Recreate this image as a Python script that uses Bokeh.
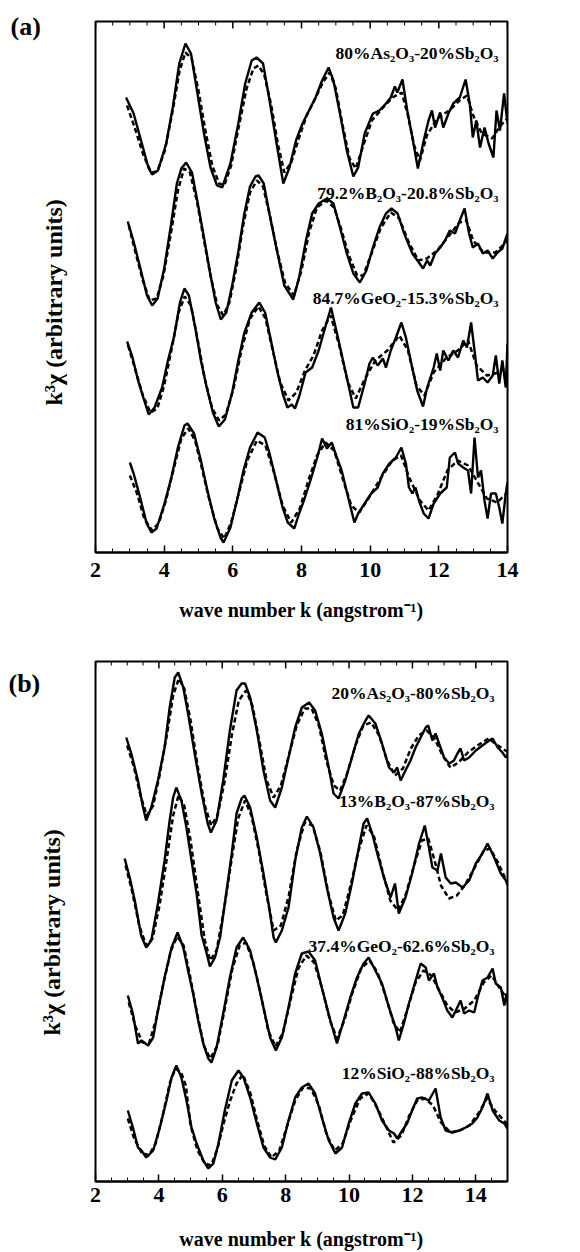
from bokeh.plotting import figure
from bokeh.models import Range1d, FixedTicker, Label, Title
from bokeh.layouts import column
from bokeh.embed import file_html
from bokeh.resources import INLINE

# ---------------- data (k in 1/angstrom, k^3 chi in arbitrary units) ----------------
a_labels = ["80%As₂O₃-20%Sb₂O₃", "79.2%B₂O₃-20.8%Sb₂O₃",
            "84.7%GeO₂-15.3%Sb₂O₃", "81%SiO₂-19%Sb₂O₃"]
b_labels = ["20%As₂O₃-80%Sb₂O₃", "13%B₂O₃-87%Sb₂O₃",
            "37.4%GeO₂-62.6%Sb₂O₃", "12%SiO₂-88%Sb₂O₃"]
a_offsets = [43.7, 30.7, 18.7, 6.7]
b_offsets = [43.1, 31.1, 18.6, 6.6]
x_ticks = [2, 4, 6, 8, 10, 12, 14]
y_title = "k³χ (arbitrary units)"
x_title = "wave number k (angstrom⁻¹)"

# panel (a) experiment (solid)
a1_exp = [(2.89,1.8),(3.11,0.2),(3.35,-2.8),(3.54,-5.2),(3.65,-5.9),(3.82,-5.5),(4.06,-2.8),(4.25,0.8),(4.44,5.2),(4.62,7.2),(4.78,6.2),(4.97,2.2),(5.16,-1.8),(5.35,-5.2),(5.54,-7.0),(5.69,-7.2),(5.93,-4.8),(6.16,-0.8),(6.36,3.2),(6.55,5.5),(6.69,5.8),(6.88,5.2),(7.07,1.5),(7.26,-2.5),(7.47,-6.8),(7.65,-5.2),(7.84,-2.5),(8.03,-0.8),(8.22,0.5),(8.41,1.8),(8.60,3.5),(8.79,4.8),(8.93,3.5),(9.12,0.2),(9.32,-3.5),(9.51,-6.1),(9.65,-5.2),(9.84,-1.8),(10.08,0.2),(10.27,0.5),(10.46,1.2),(10.60,1.8),(10.72,2.9),(10.79,2.3),(10.94,3.6),(11.08,0.5),(11.23,-2.2),(11.39,-5.3),(11.56,-2.5),(11.70,-0.5),(11.80,0.5),(11.89,-1.2),(12.04,0.3),(12.13,-1.2),(12.28,0.2),(12.42,1.2),(12.61,1.8),(12.78,3.6),(12.90,1.2),(12.99,-2.2),(13.09,-0.5),(13.20,-3.2),(13.33,-1.2),(13.45,-2.8),(13.59,-4.2),(13.68,0.5),(13.78,-1.5),(13.90,2.2),(14.0,-0.8)]
a2_exp = [(2.94,2.4),(3.11,0.4),(3.33,-2.6),(3.50,-5.0),(3.65,-6.0),(3.81,-5.3),(4.00,-2.3),(4.20,2.1),(4.37,6.2),(4.50,7.7),(4.64,8.3),(4.81,7.3),(4.98,4.2),(5.16,0.8),(5.33,-2.6),(5.50,-5.7),(5.65,-7.4),(5.81,-6.7),(5.98,-4.0),(6.16,-0.6),(6.33,3.1),(6.50,5.9),(6.66,6.9),(6.75,7.0),(6.90,6.2),(7.07,3.1),(7.29,-0.6),(7.50,-4.0),(7.76,-5.4),(7.93,-3.2),(8.13,0.5),(8.31,3.2),(8.50,4.2),(8.74,4.7),(8.93,4.2),(9.12,1.8),(9.32,-0.8),(9.51,-2.8),(9.70,-3.7),(9.89,-2.5),(10.08,-0.2),(10.27,1.8),(10.46,3.2),(10.62,3.7),(10.80,3.2),(10.99,1.2),(11.23,-0.8),(11.42,-1.7),(11.54,-2.3),(11.66,-1.5),(11.75,-2.0),(11.89,-0.8),(12.04,-0.2),(12.18,0.5),(12.32,1.5),(12.47,1.2),(12.61,2.5),(12.75,3.7),(12.88,1.2),(12.99,-0.2),(13.14,0.2),(13.28,-0.8),(13.42,-0.5),(13.57,-1.3),(13.71,-0.7),(13.85,-0.3),(14.0,1.2)]
a3_exp = [(2.92,2.4),(3.07,0.9),(3.24,-1.5),(3.42,-3.5),(3.55,-4.9),(3.72,-4.2),(3.94,-2.2),(4.11,0.5),(4.29,2.9),(4.46,6.3),(4.59,7.7),(4.72,7.0),(4.90,3.9),(5.07,0.5),(5.24,-2.2),(5.42,-4.7),(5.59,-6.1),(5.77,-5.4),(5.98,-2.7),(6.16,0.5),(6.33,3.2),(6.55,5.3),(6.77,6.3),(6.94,5.3),(7.11,2.5),(7.29,-0.5),(7.46,-2.9),(7.59,-4.2),(7.72,-3.9),(7.81,-4.3),(7.94,-3.0),(8.12,-0.7),(8.31,-0.2),(8.50,1.5),(8.69,3.8),(8.86,5.8),(9.08,2.5),(9.32,-1.2),(9.51,-4.2),(9.65,-4.2),(9.84,-1.8),(9.98,0.2),(10.08,0.8),(10.22,0.0),(10.37,0.7),(10.46,-0.2),(10.60,1.5),(10.75,2.8),(10.91,4.3),(11.04,2.8),(11.18,0.5),(11.37,-2.5),(11.54,-4.1),(11.66,-2.2),(11.85,-0.2),(11.94,1.2),(12.04,-0.5),(12.13,1.5),(12.28,0.5),(12.42,1.5),(12.56,0.8),(12.71,2.5),(12.82,1.8),(12.94,4.3),(13.04,1.5),(13.14,-1.5),(13.28,-1.2),(13.42,-1.7),(13.57,-1.0),(13.66,1.0),(13.76,-1.8),(13.85,0.5),(13.95,-2.2),(14.0,2.2)]
a4_exp = [(3.00,2.3),(3.11,1.2),(3.30,-1.2),(3.49,-3.8),(3.63,-4.7),(3.78,-4.3),(4.01,-1.8),(4.21,0.8),(4.40,3.8),(4.59,6.0),(4.68,6.2),(4.87,5.2),(5.07,2.5),(5.26,-0.5),(5.45,-3.2),(5.64,-5.2),(5.73,-5.7),(5.93,-4.2),(6.12,-1.5),(6.31,1.5),(6.50,3.8),(6.72,5.3),(6.93,4.8),(7.07,3.2),(7.26,0.5),(7.45,-2.2),(7.60,-3.7),(7.79,-4.3),(7.93,-2.8),(8.07,-1.5),(8.26,0.5),(8.46,2.8),(8.60,4.7),(8.74,3.7),(8.88,4.3),(9.03,2.8),(9.17,1.5),(9.36,-1.2),(9.54,-3.7),(9.65,-2.8),(9.84,-1.8),(10.03,-0.8),(10.22,-0.2),(10.37,1.2),(10.56,2.2),(10.75,2.8),(10.91,3.8),(11.04,2.2),(11.13,-0.2),(11.23,-0.8),(11.32,-0.2),(11.42,-1.5),(11.56,-2.8),(11.70,-3.3),(11.85,-1.8),(12.04,-0.8),(12.23,-0.2),(12.32,2.8),(12.47,3.3),(12.56,2.2),(12.71,1.8),(12.85,1.5),(12.94,-0.8),(13.04,4.8),(13.14,0.8),(13.23,1.5),(13.33,-1.5),(13.42,-3.3),(13.52,-0.8),(13.66,-0.8),(13.76,-2.2),(13.85,-3.8),(13.95,-0.8),(14.0,0.3)]

# panel (a) fit (dashed)
a1_fit = [(2.92,1.0),(3.15,-1.3),(3.40,-4.0),(3.62,-5.7),(3.80,-5.6),(4.02,-3.5),(4.25,0.5),(4.45,4.5),(4.62,6.3),(4.80,5.7),(5.00,2.5),(5.20,-1.5),(5.40,-5.0),(5.60,-6.8),(5.75,-7.0),(5.95,-5.0),(6.18,-1.0),(6.40,2.7),(6.60,4.7),(6.75,5.0),(6.92,4.0),(7.12,1.0),(7.32,-3.0),(7.50,-5.7),(7.70,-4.7),(7.92,-2.3),(8.15,0.0),(8.40,1.7),(8.62,3.3),(8.82,4.3),(9.00,2.7),(9.20,-1.0),(9.40,-4.3),(9.58,-5.3),(9.80,-3.0),(10.05,-0.5),(10.35,0.7),(10.65,1.8),(10.92,2.3),(11.10,0.0),(11.28,-3.0),(11.45,-4.5),(11.65,-2.0),(11.95,-0.3),(12.30,0.5),(12.60,1.5),(12.82,2.0),(13.00,0.0),(13.25,-1.8),(13.55,-2.3),(13.80,-1.0),(14.0,-0.3)]
a2_fit = [(2.97,2.0),(3.15,-0.5),(3.38,-3.5),(3.58,-5.5),(3.78,-5.3),(3.98,-3.0),(4.20,1.3),(4.40,5.5),(4.58,7.7),(4.75,7.3),(4.95,4.5),(5.15,0.7),(5.35,-3.0),(5.55,-6.0),(5.72,-7.0),(5.90,-5.7),(6.10,-2.3),(6.30,2.0),(6.50,5.3),(6.70,6.5),(6.88,5.9),(7.08,3.0),(7.30,-0.7),(7.52,-3.7),(7.78,-5.0),(8.00,-2.5),(8.22,1.3),(8.45,3.8),(8.72,4.5),(8.95,3.8),(9.15,1.7),(9.38,-1.0),(9.62,-3.0),(9.80,-3.0),(10.05,-0.7),(10.30,1.7),(10.60,3.3),(10.85,2.7),(11.10,0.5),(11.40,-1.5),(11.65,-1.3),(11.95,-0.5),(12.30,1.0),(12.60,2.3),(12.80,2.5),(13.00,0.5),(13.30,-0.7),(13.65,-0.7),(14.0,0.5)]
a3_fit = [(2.95,2.0),(3.15,-0.3),(3.38,-3.0),(3.60,-4.7),(3.80,-4.3),(4.00,-2.0),(4.22,1.7),(4.42,5.3),(4.60,6.9),(4.78,6.0),(4.98,2.5),(5.18,-1.3),(5.40,-4.3),(5.60,-5.5),(5.80,-4.9),(6.02,-2.3),(6.25,1.5),(6.50,4.7),(6.75,5.9),(6.95,4.7),(7.15,1.7),(7.38,-1.7),(7.62,-3.5),(7.85,-2.7),(8.10,-0.5),(8.35,1.0),(8.60,3.5),(8.85,5.0),(9.10,2.0),(9.35,-1.7),(9.58,-3.3),(9.85,-1.3),(10.15,0.5),(10.50,1.5),(10.85,3.0),(11.10,1.5),(11.35,-2.0),(11.58,-3.0),(11.85,-0.7),(12.20,0.7),(12.55,1.5),(12.85,2.5),(13.10,0.0),(13.40,-1.0),(13.75,-0.7),(14.0,0.0)]
a4_fit = [(3.00,1.0),(3.20,-0.7),(3.42,-3.3),(3.65,-4.5),(3.85,-3.7),(4.05,-1.5),(4.28,1.7),(4.50,4.7),(4.70,5.7),(4.90,4.5),(5.10,1.7),(5.32,-1.5),(5.55,-4.3),(5.75,-5.3),(5.95,-3.7),(6.18,-0.7),(6.42,2.5),(6.70,4.5),(6.95,4.0),(7.20,1.3),(7.45,-2.0),(7.70,-3.7),(7.95,-2.3),(8.20,0.5),(8.45,3.0),(8.70,4.3),(8.95,3.5),(9.20,0.7),(9.45,-2.0),(9.68,-2.7),(9.95,-1.3),(10.30,0.7),(10.65,2.5),(10.90,3.0),(11.15,0.7),(11.45,-1.5),(11.70,-2.5),(11.95,-1.0),(12.25,1.5),(12.55,2.5),(12.85,2.0),(13.10,0.5),(13.40,-1.3),(13.70,-1.7),(14.0,-0.7)]

# panel (b) experiment (solid)
b1_exp = [(2.97,1.3),(3.13,-0.3),(3.34,-3.0),(3.50,-5.7),(3.60,-7.0),(3.76,-5.7),(3.97,-3.0),(4.18,0.3),(4.34,4.3),(4.50,7.3),(4.61,7.8),(4.77,6.3),(4.92,3.7),(5.13,-0.3),(5.35,-4.3),(5.54,-7.3),(5.64,-8.2),(5.82,-7.0),(6.03,-3.0),(6.24,2.0),(6.45,6.0),(6.61,6.7),(6.72,6.7),(6.88,5.3),(7.09,2.0),(7.30,-2.0),(7.51,-5.0),(7.67,-5.7),(7.88,-3.7),(8.09,-0.7),(8.30,2.3),(8.51,4.3),(8.74,4.8),(8.93,4.0),(9.14,1.7),(9.36,-1.7),(9.51,-4.3),(9.67,-4.8),(9.88,-3.0),(10.09,-0.7),(10.31,1.7),(10.52,3.0),(10.62,3.5),(10.83,2.7),(11.04,0.7),(11.26,-1.7),(11.42,-2.2),(11.52,-1.7),(11.63,-3.0),(11.78,-2.0),(11.94,-1.0),(12.10,0.3),(12.26,1.3),(12.42,2.3),(12.50,2.5),(12.63,1.0),(12.73,1.7),(12.84,0.7),(13.00,-0.7),(13.16,-1.3),(13.31,-1.0),(13.42,-0.3),(13.52,0.2),(13.63,-1.0),(13.79,-0.7),(14.00,0.0),(14.21,0.5),(14.42,1.0),(14.53,1.2),(14.69,0.3),(14.84,-0.2),(14.95,-0.7),(15.03,-0.2)]
b2_exp = [(2.92,1.2),(3.08,-0.7),(3.24,-3.0),(3.44,-6.5),(3.60,-7.7),(3.76,-7.0),(3.97,-3.3),(4.18,1.0),(4.34,5.0),(4.45,7.3),(4.55,8.3),(4.71,7.0),(4.87,4.3),(5.03,1.0),(5.19,-2.3),(5.35,-6.5),(5.50,-8.2),(5.61,-9.6),(5.77,-8.7),(5.93,-6.7),(6.08,-3.3),(6.30,1.7),(6.45,5.7),(6.61,7.2),(6.70,7.5),(6.88,6.3),(7.09,3.3),(7.30,-0.3),(7.46,-3.3),(7.62,-6.7),(7.69,-7.2),(7.88,-6.0),(8.09,-3.7),(8.30,1.0),(8.51,4.3),(8.67,5.4),(8.88,4.3),(9.09,1.7),(9.30,-1.7),(9.51,-4.7),(9.67,-6.0),(9.88,-4.3),(10.09,-1.3),(10.31,2.3),(10.46,4.7),(10.57,5.2),(10.73,3.7),(10.89,1.7),(11.10,-0.7),(11.31,-2.7),(11.45,-1.3),(11.57,-4.3),(11.78,-2.7),(11.99,-0.3),(12.21,2.7),(12.39,4.5),(12.52,2.3),(12.63,0.3),(12.79,0.0),(12.90,1.7),(13.05,-0.7),(13.21,-1.3),(13.37,-1.2),(13.58,-1.7),(13.79,-1.0),(14.00,0.7),(14.21,1.7),(14.37,2.7),(14.58,1.3),(14.79,-0.3),(14.95,-1.0),(15.03,-1.7)]
b3_exp = [(3.02,0.0),(3.18,-1.8),(3.34,-4.8),(3.45,-4.5),(3.66,-5.0),(3.82,-4.2),(3.97,-1.5),(4.18,1.8),(4.40,4.8),(4.59,6.3),(4.77,4.8),(4.92,2.5),(5.08,0.2),(5.24,-2.5),(5.40,-4.8),(5.56,-6.3),(5.66,-6.7),(5.82,-5.2),(6.03,-1.8),(6.24,1.8),(6.45,4.8),(6.66,5.8),(6.88,4.5),(7.09,1.8),(7.30,-1.2),(7.51,-4.2),(7.69,-5.5),(7.88,-4.2),(8.09,-1.2),(8.30,2.2),(8.51,4.2),(8.72,4.4),(8.93,3.5),(9.14,0.8),(9.41,-2.5),(9.62,-4.8),(9.83,-2.5),(10.04,-0.2),(10.25,1.8),(10.46,3.2),(10.62,3.8),(10.83,2.5),(11.04,1.2),(11.26,-1.2),(11.47,-3.2),(11.57,-4.5),(11.73,-2.8),(11.89,-0.8),(12.10,1.5),(12.26,3.2),(12.42,2.8),(12.52,1.5),(12.68,2.2),(12.79,0.8),(12.94,-0.2),(13.10,-1.5),(13.26,-2.2),(13.37,-1.5),(13.52,-0.5),(13.63,-1.8),(13.79,-1.5),(13.95,-1.7),(14.06,-0.2),(14.21,1.5),(14.37,1.8),(14.53,2.7),(14.63,1.2),(14.79,0.8),(14.90,-1.0),(14.97,0.2),(15.03,-1.2)]
b4_exp = [(3.02,0.5),(3.18,-1.2),(3.34,-3.2),(3.45,-3.5),(3.60,-4.2),(3.82,-3.5),(4.03,-1.2),(4.24,1.5),(4.40,3.8),(4.55,5.0),(4.71,3.8),(4.87,1.5),(5.03,-1.2),(5.19,-2.8),(5.40,-4.5),(5.56,-5.3),(5.72,-4.8),(5.88,-2.8),(6.08,0.5),(6.30,3.5),(6.51,4.5),(6.67,3.8),(6.88,1.8),(7.09,-0.8),(7.30,-3.2),(7.51,-4.2),(7.67,-4.4),(7.88,-3.2),(8.09,-0.5),(8.30,1.8),(8.51,2.8),(8.72,3.2),(8.93,2.2),(9.14,-0.2),(9.36,-2.5),(9.57,-3.8),(9.78,-3.2),(9.99,-0.8),(10.20,1.2),(10.41,2.2),(10.62,2.3),(10.83,1.2),(11.04,-0.5),(11.26,-1.5),(11.42,-1.8),(11.52,-2.3),(11.68,-1.5),(11.83,-0.8),(11.99,0.5),(12.15,1.7),(12.31,1.8),(12.52,1.5),(12.73,2.7),(12.89,-0.2),(13.05,-1.5),(13.26,-1.7),(13.47,-1.5),(13.68,-1.2),(13.89,-0.8),(14.05,-0.2),(14.21,0.8),(14.37,2.2),(14.53,0.5),(14.74,-0.5),(14.90,-0.8),(15.03,-1.5)]

# panel (b) fit (dashed)
b1_fit = [(3.00,0.5),(3.20,-1.5),(3.42,-4.5),(3.62,-6.5),(3.82,-5.5),(4.02,-2.5),(4.25,1.5),(4.45,5.5),(4.63,7.2),(4.80,6.2),(5.00,3.0),(5.22,-1.5),(5.45,-5.5),(5.65,-7.5),(5.85,-6.5),(6.08,-3.0),(6.30,1.5),(6.52,5.0),(6.75,6.0),(6.95,4.5),(7.18,0.8),(7.40,-3.0),(7.62,-4.7),(7.85,-3.5),(8.10,-0.5),(8.35,2.5),(8.60,4.2),(8.82,4.2),(9.05,2.5),(9.28,-1.0),(9.52,-3.5),(9.72,-4.0),(9.95,-2.2),(10.20,0.5),(10.45,2.5),(10.70,2.8),(10.95,1.5),(11.20,-1.0),(11.45,-2.5),(11.70,-1.8),(11.95,0.2),(12.20,1.5),(12.45,2.0),(12.70,1.2),(12.95,-0.5),(13.20,-1.7),(13.45,-1.2),(13.75,-0.2),(14.05,0.5),(14.40,1.2),(14.70,0.5),(15.03,-0.2)]
b2_fit = [(2.95,0.5),(3.15,-2.0),(3.38,-5.5),(3.60,-7.5),(3.80,-6.8),(4.02,-3.5),(4.25,1.2),(4.45,5.5),(4.62,7.5),(4.80,6.5),(5.00,3.0),(5.22,-2.0),(5.45,-7.0),(5.62,-9.0),(5.82,-8.0),(6.05,-4.0),(6.28,0.8),(6.50,5.2),(6.72,7.0),(6.92,5.5),(7.15,2.0),(7.40,-2.5),(7.62,-6.0),(7.85,-5.5),(8.10,-2.5),(8.35,2.0),(8.60,4.8),(8.85,4.5),(9.10,1.8),(9.35,-2.3),(9.58,-5.0),(9.80,-4.5),(10.05,-1.5),(10.30,2.0),(10.55,4.5),(10.78,3.5),(11.05,0.0),(11.30,-3.0),(11.55,-4.0),(11.80,-2.3),(12.05,0.5),(12.30,3.0),(12.50,3.2),(12.70,1.0),(12.90,-1.5),(13.15,-2.8),(13.40,-2.5),(13.65,-1.5),(13.95,0.2),(14.25,2.0),(14.45,2.2),(14.70,0.8),(15.03,-1.5)]
b3_fit = [(3.05,-0.7),(3.25,-3.0),(3.48,-4.7),(3.70,-4.7),(3.92,-2.3),(4.15,1.3),(4.38,4.5),(4.58,5.9),(4.78,5.0),(4.98,2.0),(5.20,-1.7),(5.42,-5.0),(5.62,-6.3),(5.85,-5.0),(6.08,-1.3),(6.32,2.7),(6.55,5.0),(6.75,5.3),(6.98,3.3),(7.22,0.0),(7.45,-3.5),(7.68,-5.1),(7.92,-3.7),(8.15,-0.5),(8.40,2.7),(8.65,4.0),(8.90,3.3),(9.15,0.7),(9.40,-2.5),(9.62,-4.3),(9.85,-2.5),(10.10,0.2),(10.38,2.7),(10.65,3.5),(10.90,2.3),(11.15,0.0),(11.40,-2.7),(11.60,-3.7),(11.85,-1.3),(12.10,1.3),(12.35,2.5),(12.60,2.0),(12.85,0.5),(13.10,-1.0),(13.35,-1.7),(13.65,-1.3),(13.95,-0.5),(14.25,1.3),(14.50,2.0),(14.80,0.5),(15.03,-0.5)]
b4_fit = [(3.02,-0.3),(3.22,-2.3),(3.45,-3.7),(3.68,-4.0),(3.90,-2.8),(4.12,0.0),(4.35,3.3),(4.52,4.7),(4.70,4.3),(4.85,3.0),(5.00,-1.0),(5.22,-3.5),(5.45,-4.8),(5.65,-5.0),(5.85,-3.3),(6.05,-0.7),(6.25,1.5),(6.45,3.2),(6.65,4.1),(6.88,2.3),(7.10,-0.5),(7.32,-3.0),(7.55,-4.2),(7.80,-3.5),(8.05,-1.0),(8.30,1.5),(8.55,2.8),(8.80,2.7),(9.05,1.0),(9.30,-2.0),(9.55,-3.5),(9.80,-2.8),(10.05,-0.5),(10.35,1.7),(10.62,2.2),(10.90,0.7),(11.15,-1.0),(11.40,-2.7),(11.65,-2.0),(11.90,0.0),(12.15,1.5),(12.40,1.7),(12.65,1.0),(12.90,-0.7),(13.20,-1.7),(13.50,-1.5),(13.80,-1.0),(14.10,0.3),(14.35,1.7),(14.60,0.5),(15.03,-1.0)]

# ---------------- drawing ----------------
SERIF = "Liberation Serif"


def make_panel(xmax, ymax, exps, fits, offsets, labels, label_x, label_ys,
               border, tick_standoff, title_standoff, height,
               tag, tag_offset, tag_standoff, ylab_offset, ylab_standoff):
    left, top, right, bottom = border
    minor = [v / 2 for v in range(4, 2 * int(xmax) + 1) if (v / 2) not in x_ticks]
    p = figure(width=580, height=height, output_backend="svg", toolbar_location=None,
               x_range=Range1d(2, xmax), y_range=Range1d(0, ymax),
               y_axis_location=None,
               min_border_left=left, min_border_right=right,
               min_border_top=top, min_border_bottom=bottom,
               background_fill_color="white", border_fill_color="white")
    p.grid.visible = False
    p.outline_line_color = "black"
    p.outline_line_width = 2

    xa = p.xaxis[0]
    xa.ticker = FixedTicker(ticks=x_ticks, minor_ticks=minor)
    xa.axis_label = x_title
    xa.axis_line_width = 2
    xa.major_tick_in = 7
    xa.major_tick_out = 0
    xa.minor_tick_in = 4
    xa.minor_tick_out = 0
    xa.major_tick_line_width = 1.5
    xa.minor_tick_line_width = 1
    xa.major_label_text_font = SERIF
    xa.major_label_text_font_style = "bold"
    xa.major_label_text_font_size = "22px"
    xa.major_label_text_color = "black"
    xa.major_label_standoff = tick_standoff
    xa.axis_label_text_font = SERIF
    xa.axis_label_text_font_style = "bold"
    xa.axis_label_text_font_size = "20px"
    xa.axis_label_text_color = "black"
    xa.axis_label_standoff = title_standoff

    # panel tag, e.g. "(a)", beside the top-left corner of the frame
    p.add_layout(Title(text=tag, align="left", vertical_align="bottom", offset=tag_offset,
                       standoff=tag_standoff, text_font=SERIF, text_font_style="bold",
                       text_font_size="26px", text_color="black"), "above")
    # y-axis title, reading bottom to top, left of the frame
    p.add_layout(Title(text=y_title, align="left", vertical_align="bottom", offset=ylab_offset,
                       standoff=ylab_standoff, text_font=SERIF, text_font_style="bold",
                       text_font_size="24px", text_color="black"), "left")

    # inward ticks along the top edge of the frame (same tick positions as the bottom axis)
    px_per_unit = (height - top - bottom) / ymax
    p.segment(x0=x_ticks, x1=x_ticks, y0=[ymax] * len(x_ticks),
              y1=[ymax - 7 / px_per_unit] * len(x_ticks), line_color="black", line_width=1.5)
    p.segment(x0=minor, x1=minor, y0=[ymax] * len(minor),
              y1=[ymax - 4 / px_per_unit] * len(minor), line_color="black", line_width=1)

    for exp, fit, off, lab, ly in zip(exps, fits, offsets, labels, label_ys):
        p.line([k for k, _ in fit], [c + off for _, c in fit], line_color="black",
               line_width=2.5, line_dash="5 3")
        p.line([k for k, _ in exp], [c + off for _, c in exp], line_color="black",
               line_width=2.4)
        p.add_layout(Label(x=label_x, y=ly, text=lab, text_font=SERIF,
                           text_font_style="bold", text_font_size="17.5px",
                           text_align="right", text_baseline="middle", text_color="black"))
    return p


pa = make_panel(14, 53.1, [a1_exp, a2_exp, a3_exp, a4_exp], [a1_fit, a2_fit, a3_fit, a4_fit],
                a_offsets, a_labels, 13.74, [50.0, 36.0, 25.5, 12.9],
                (93, 21, 68, 74), 10, 19, 626,
                "(a)", -85, -38, 147, 58)
pb = make_panel(15, 52.0, [b1_exp, b2_exp, b3_exp, b4_exp], [b1_fit, b2_fit, b3_fit, b4_fit],
                b_offsets, b_labels, 14.59, [48.9, 38.1, 23.6, 10.9],
                (95, 35, 73, 71), 6, 23, 626,
                "(b)", -87, -72, 146, 62)

layout = column(pa, pb, spacing=0)
open("out.html", "w").write(file_html(layout, INLINE))
